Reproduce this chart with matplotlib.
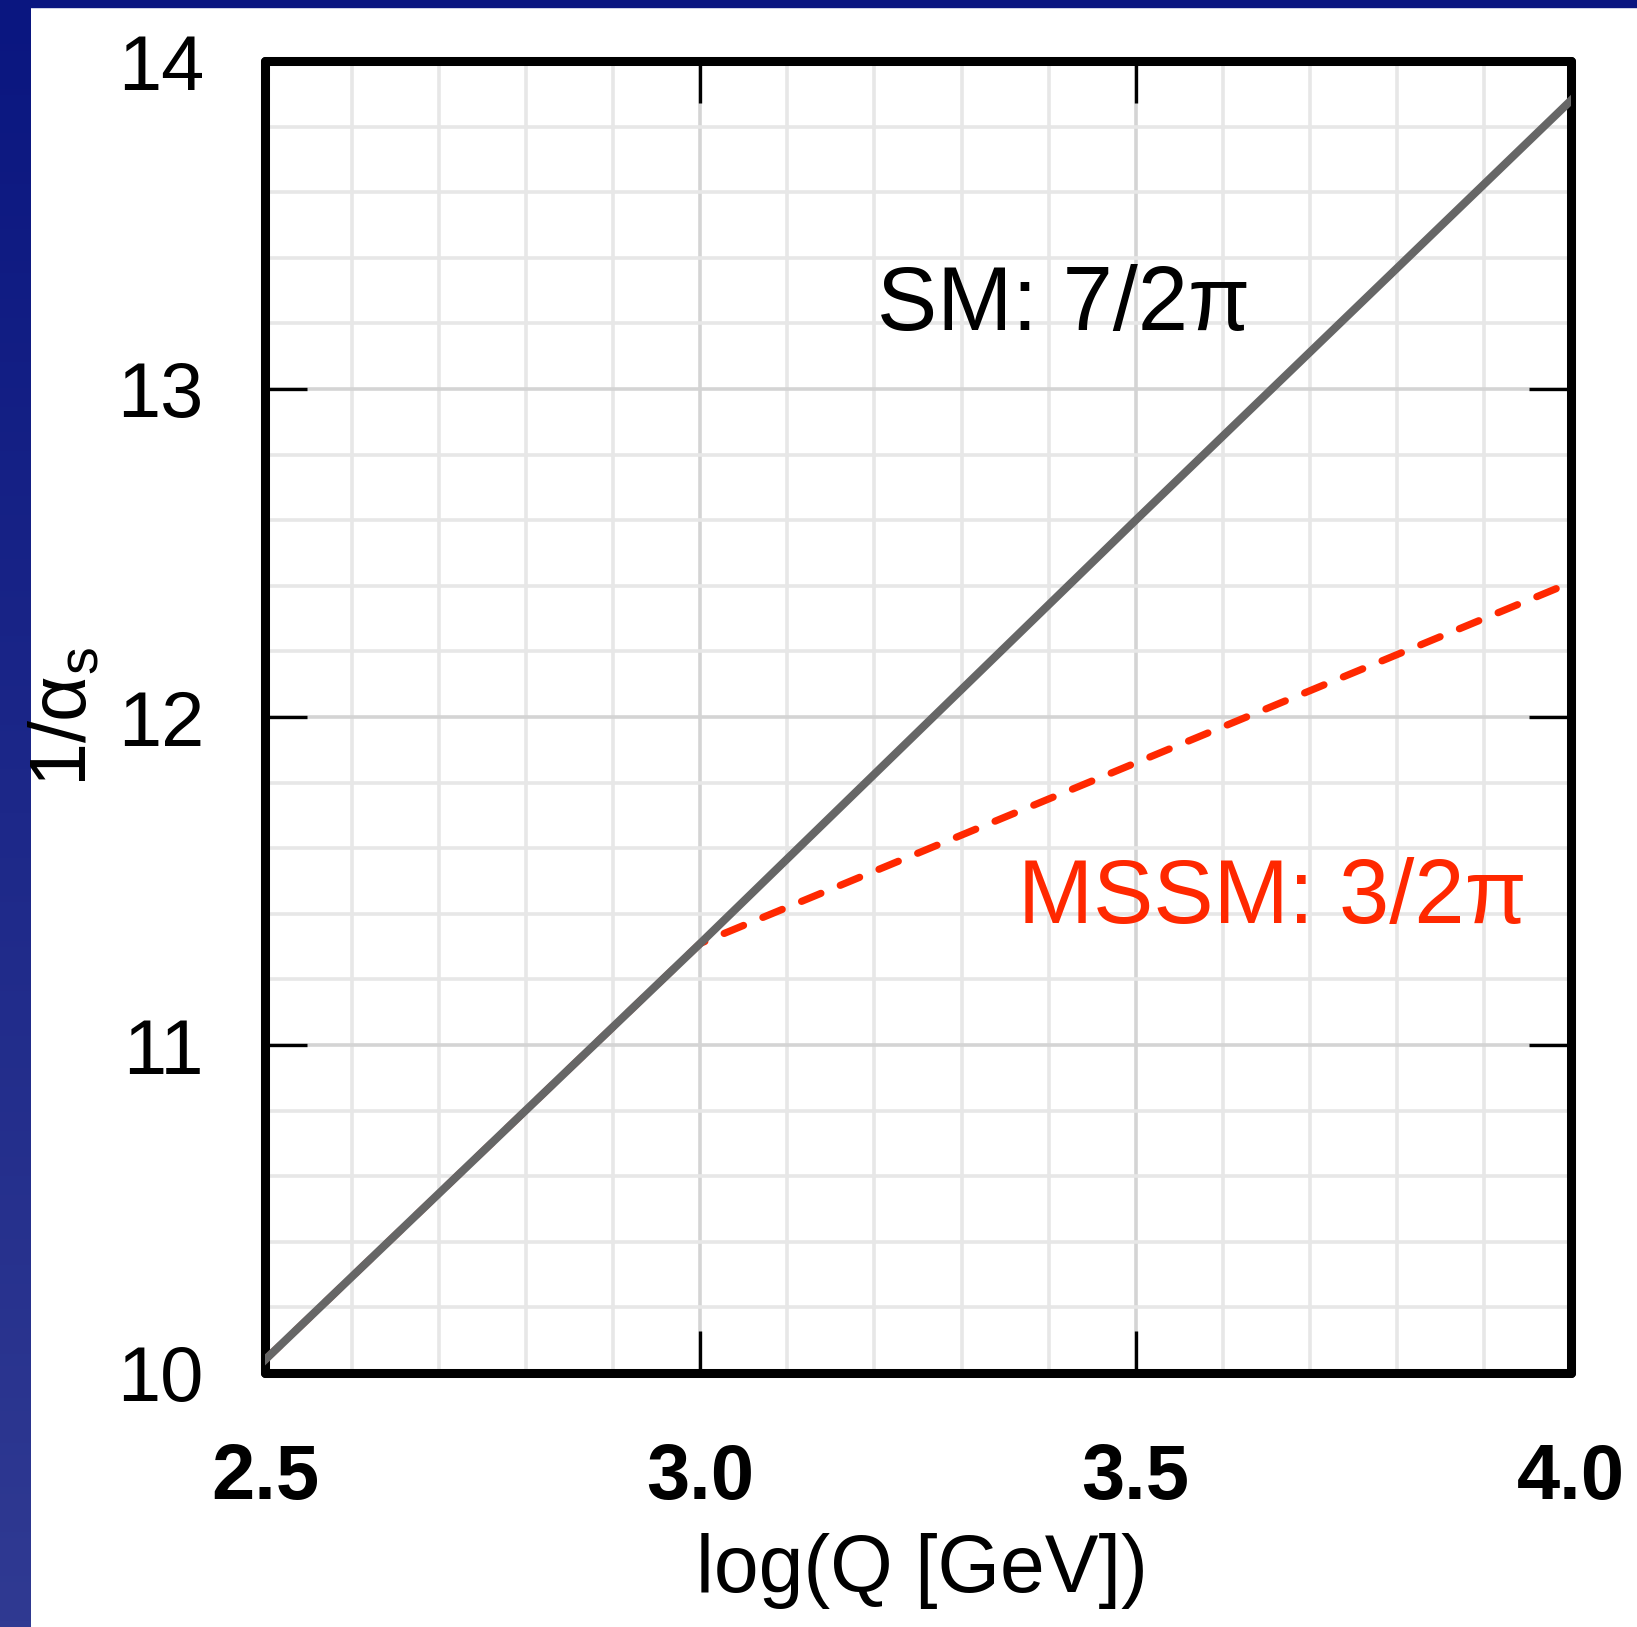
import numpy as np
import matplotlib
matplotlib.use("Agg")
import matplotlib.pyplot as plt
from matplotlib.patches import Rectangle
from matplotlib.ticker import MultipleLocator

plt.rcParams['font.family'] = ['Liberation Sans', 'DejaVu Sans']
plt.rcParams['mathtext.fontset'] = 'custom'
plt.rcParams['mathtext.rm'] = 'Liberation Sans'
plt.rcParams['mathtext.it'] = 'Liberation Sans'

# data
logq = [2.5, 3.0, 3.5, 4.0]
sm_inv_alpha = [10.04, 11.31, 12.60, 13.88]
mssm_inv_alpha = [10.04, 11.31, 11.86, 12.41]
x_ticks = [2.5, 3.0, 3.5, 4.0]
y_ticks = [10, 11, 12, 13, 14]

W, H = 1637, 1627
fig = plt.figure(figsize=(W / 100, H / 100), dpi=100)

# blue frame strips of the slide
strip = fig.add_axes([0, 0, 31 / W, 1], zorder=0)
grad = np.linspace(0, 1, 256).reshape(-1, 1)
cmap = matplotlib.colors.LinearSegmentedColormap.from_list('bl', ['#0a1680', '#303a92'])
strip.imshow(grad, aspect='auto', cmap=cmap, extent=[0, 1, 0, 1], origin='upper')
strip.axis('off')
fig.patches.append(Rectangle((0, 1 - 7 / H), 1, 7 / H, transform=fig.transFigure,
                             color='#0a1680', zorder=0))

ax = fig.add_axes([265 / W, 1 - 1373 / H, (1571 - 265) / W, (1373 - 61) / H], zorder=1)

ax.plot(logq, mssm_inv_alpha, color='#ff2800', lw=5.2, ls=(0, (2.9, 2.9)),
        dash_capstyle='round', zorder=3)
ax.plot(logq, sm_inv_alpha, color='#666666', lw=5.8, zorder=4)

ax.set_xlim(2.5, 4.0)
ax.set_ylim(10, 14)
ax.set_xticks(x_ticks)
ax.set_yticks(y_ticks)
ax.xaxis.set_minor_locator(MultipleLocator(0.1))
ax.yaxis.set_minor_locator(MultipleLocator(0.2))
ax.grid(which='major', color='#d4d4d4', lw=2.6, zorder=0)
ax.grid(which='minor', color='#e7e7e7', lw=2.6, zorder=0)
ax.set_axisbelow(True)

ax.tick_params(which='major', direction='in', length=30, width=2.4, top=True, right=True)
ax.tick_params(which='minor', length=0)
ax.tick_params(axis='y', labelsize=56, pad=44)
ax.tick_params(axis='x', labelsize=56, pad=50)
ax.set_xticklabels(['2.5', '3.0', '3.5', '4.0'], fontweight='bold')
ax.set_yticklabels([str(v) for v in y_ticks])

for s in ax.spines.values():
    s.set_linewidth(6.5)
    s.set_capstyle('round')
    s.set_joinstyle('round')

ax.set_xlabel('log(Q [GeV])', fontsize=58)
ax.xaxis.set_label_coords(0.503, -0.122)
ax.set_ylabel(r'$\mathregular{1/α_s}$', fontsize=57)
ax.yaxis.set_label_coords(-0.124, 0.5)

ax.text(3.203, 13.18, 'SM: 7/2π', fontsize=65, ha='left', va='baseline', color='black', zorder=5)
ax.text(3.365, 11.372, 'MSSM: 3/2π', fontsize=65, ha='left', va='baseline', color='#ff2800', zorder=5)

fig.savefig('out.png', dpi=100)
